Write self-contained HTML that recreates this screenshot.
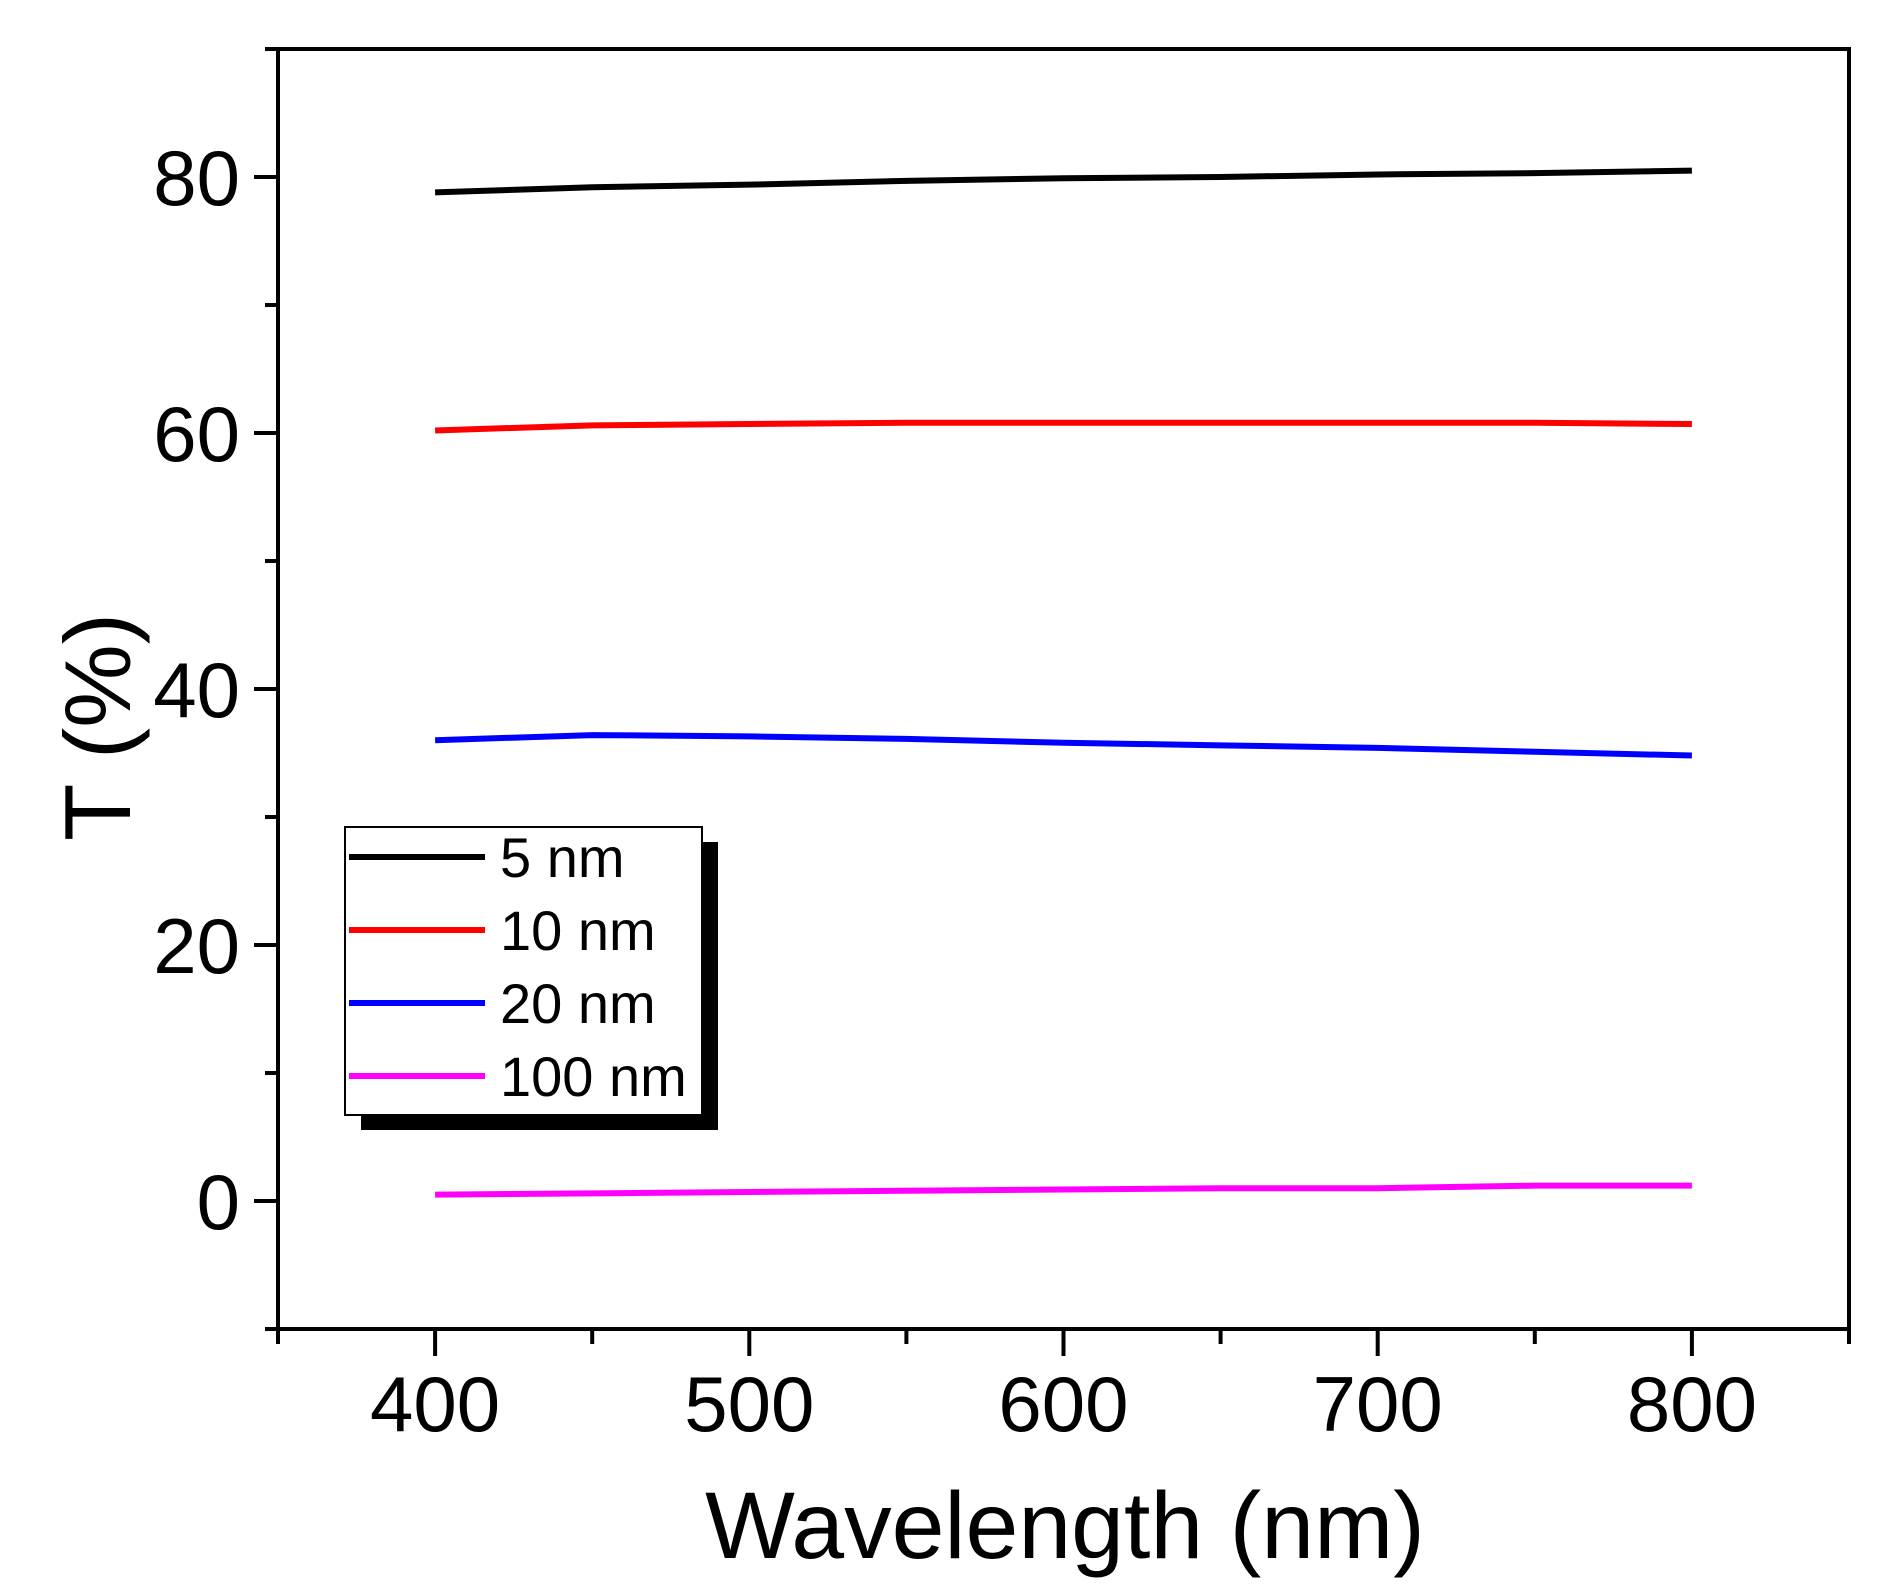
<!DOCTYPE html>
<html><head><meta charset="utf-8"><style>
html,body{margin:0;padding:0;background:#fff;width:1892px;height:1590px;overflow:hidden}
svg text{font-family:"Liberation Sans",Arial,sans-serif;fill:#000}
</style></head><body>
<svg id="chart" width="1892" height="1590" xmlns="http://www.w3.org/2000/svg"></svg>
<script>
const xTicks = [400, 500, 600, 700, 800];
const yTicks = [0, 20, 40, 60, 80];
const wavelengths = [400, 450, 500, 550, 600, 650, 700, 750, 800];
const t5nm = [78.8, 79.2, 79.4, 79.7, 79.9, 80.0, 80.2, 80.3, 80.5];
const t10nm = [60.2, 60.6, 60.7, 60.8, 60.8, 60.8, 60.8, 60.8, 60.7];
const t20nm = [36.0, 36.4, 36.3, 36.1, 35.8, 35.6, 35.4, 35.1, 34.8];
const t100nm = [0.5, 0.6, 0.7, 0.8, 0.9, 1.0, 1.0, 1.2, 1.2];
const seriesNames = ["5 nm", "10 nm", "20 nm", "100 nm"];
const seriesColors = ["#000000", "#ff0000", "#0000ff", "#ff00ff"];
const seriesData = [t5nm, t10nm, t20nm, t100nm];

const L=278, R=1849, T=49, B=1329, XMIN=350, XMAX=850, YMIN=-10, YMAX=90;
const sx = v => L + (v - XMIN) / (XMAX - XMIN) * (R - L);
const sy = v => B - (v - YMIN) / (YMAX - YMIN) * (B - T);
const svg = document.getElementById('chart');
const NS = 'http://www.w3.org/2000/svg';
function mk(tag, attrs, parent) {
  const e = document.createElementNS(NS, tag);
  for (const k in attrs) e.setAttribute(k, attrs[k]);
  (parent || svg).appendChild(e);
  return e;
}
seriesData.forEach((d, i) => {
  const p = mk('polyline', {points: wavelengths.map((w, j) => sx(w) + ',' + sy(d[j])).join(' '), fill: 'none', stroke: seriesColors[i], 'stroke-width': 6});
  
  
});
const frame = mk('rect', {x: L, y: T, width: R - L, height: B - T, fill: 'none', stroke: '#000', 'stroke-width': 4});


for (let v = 350; v <= 850; v += 50) {
  const major = xTicks.includes(v);
  const t = mk('line', {x1: sx(v), x2: sx(v), y1: B, y2: B + (major ? 27 : 15), stroke: '#000', 'stroke-width': 4});
  
  
}
xTicks.forEach(v => {
  const t = mk('text', {x: sx(v), y: 1431, 'font-size': 78, 'text-anchor': 'middle'});
  t.textContent = v;
  
  
});
for (let v = -10; v <= 90; v += 10) {
  const major = yTicks.includes(v);
  const t = mk('line', {x1: L, x2: L - (major ? 24 : 13), y1: sy(v), y2: sy(v), stroke: '#000', 'stroke-width': 4});
  
  
}
yTicks.forEach(v => {
  const t = mk('text', {x: 240, y: sy(v) + 28, 'font-size': 78, 'text-anchor': 'end'});
  t.textContent = v;
  
  
});
const xt = mk('text', {x: 1065, y: 1558, 'font-size': 95, 'text-anchor': 'middle'});
xt.textContent = 'Wavelength (nm)';


const yt = mk('text', {x: 0, y: 0, 'font-size': 94, 'text-anchor': 'middle', transform: 'translate(130,727) rotate(-90)'});
yt.textContent = 'T (%)';


const lg = mk('g', {});


mk('rect', {x: 361, y: 842, width: 357, height: 288, fill: '#000'}, lg);
mk('rect', {x: 345, y: 827, width: 357, height: 288, fill: '#fff', stroke: '#000', 'stroke-width': 2}, lg);
seriesNames.forEach((n, i) => {
  const y = 857 + i * 73;
  const g = mk('g', {}, lg);
  
  
  mk('line', {x1: 349, x2: 485, y1: y, y2: y, stroke: seriesColors[i], 'stroke-width': 6}, g);
  const t = mk('text', {x: 500, y: y + 20, 'font-size': 56}, g);
  t.textContent = n;
});
</script>
</body></html>
